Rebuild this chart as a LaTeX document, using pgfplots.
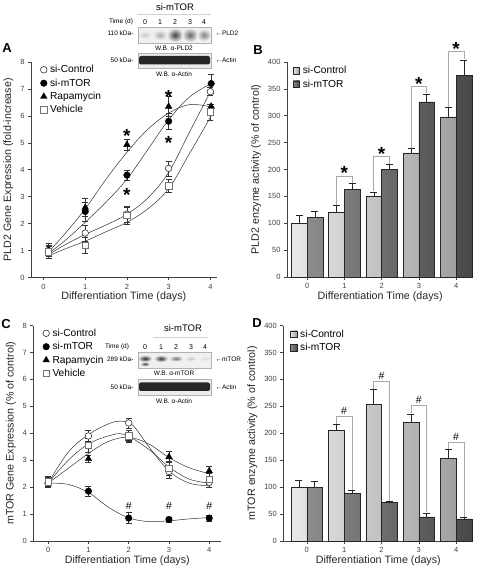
\documentclass[border=0pt]{standalone}
\usepackage{fontspec}
\setmainfont{Liberation Sans}
\usepackage{pgfplots}
\pgfplotsset{compat=1.18}
\definecolor{ctlL}{HTML}{E8E8E8}
\definecolor{ctlR}{HTML}{A0A0A0}
\definecolor{mtL}{HTML}{8C8C8C}
\definecolor{mtR}{HTML}{484848}
\definecolor{brk}{HTML}{A8A8A8}
\definecolor{axc}{HTML}{404040}
\tikzset{stn/.style={font=\bfseries\fontsize{19}{19}\selectfont}, hsn/.style={font=\fontsize{10.5}{10.5}\selectfont}}
\pgfplotsset{
  panel/.style={
    scale only axis, anchor=south west,
    axis x line*=bottom, axis y line*=left,
    axis line style={axc, line width=0.6pt},
    tick align=outside, tick style={axc, line width=0.6pt},
    major tick length=3pt,
    ticklabel style={font=\fontsize{7.5}{8}\selectfont, text=axc},
    /pgf/number format/assume math mode=true,
    label style={font=\fontsize{10.7}{12}\selectfont, text=black!85},
    xlabel={Differentiation Time (days)},
    xlabel style={yshift=2pt, inner sep=1pt},
    xtick={0,1,2,3,4},
    legend cell align=left,
    legend style={draw=none, fill=none, font=\fontsize{10.2}{11}\selectfont, anchor=north west, inner sep=0pt, row sep=2.5pt, nodes={inner ysep=1pt, inner xsep=3pt}},
  },
  mk/.style={legend image code/.code={\draw[##1] plot coordinates {(0.12cm,0cm)};}},
  barleg/.style={legend image code/.code={\draw[##1,/tikz/.cd] (0pt,-3pt) rectangle (6.5pt,3.5pt);}},
  eb/.style={error bars/.cd, y dir=both, y explicit, error bar style={black!80, line width=0.5pt}, error mark options={rotate=90, mark size=3pt, black!80, line width=0.5pt}},
  ebp/.style={error bars/.cd, y dir=plus, y explicit, error bar style={black!85, line width=0.6pt}, error mark options={rotate=90, mark size=3.5pt, black!85, line width=0.6pt}},
  fit/.style={black!80, line width=0.5pt, smooth, tension=0.6, forget plot, mark=none},
  ctlbar/.style={ybar, bar width=0.42, bar shift=0, draw=black!85, line width=0.5pt, left color=ctlL, right color=ctlR},
  mtbar/.style={ybar, bar width=0.42, bar shift=0, draw=black!85, line width=0.5pt, left color=mtL, right color=mtR},
  bk/.style={brk, line width=0.8pt, forget plot, mark=none},
}
\begin{document}
\begin{tikzpicture}
\path[use as bounding box] (0,0) rectangle (477pt,568pt);
% ---------------- Panel A
\begin{axis}[panel, at={(31pt,290.5pt)}, width=185.6pt, height=215.5pt,
  xmin=-0.3, xmax=4.15, ymin=0, ymax=8, ytick={0,1,...,8},
  ylabel={PLD2 Gene Expression (fold-increase)},
  legend style={at={(0.05,0.99)}}]
\addplot[fit] coordinates {(0.12,0.95) (0.5,1.6) (1,2.55) (1.5,3.65) (2,4.65) (2.5,5.5) (3,6.1) (3.5,6.42) (4.02,6.33)};
\addplot[fit] coordinates {(0.12,0.9) (0.5,1.35) (1,2.05) (1.5,2.8) (2,3.65) (2.5,4.75) (3,5.85) (3.5,6.7) (4.02,7.2)};
\addplot[fit] coordinates {(0.12,0.85) (0.5,1.2) (1,1.6) (1.5,1.95) (2,2.35) (2.5,2.95) (3,3.9) (3.5,5.4) (4.02,6.95)};
\addplot[fit] coordinates {(0.12,0.8) (0.5,1.05) (1,1.35) (1.5,1.7) (2,2.05) (2.5,2.55) (3,3.3) (3.5,4.6) (4.02,6.0)};
\addplot[only marks, mk, mark=*, mark size=3.3pt, mark options={fill=white, draw=black!80, line width=0.6pt}, eb] coordinates {
 (0.12,0.95) +- (0,0.15) (1,1.65) +- (0,0.3) (2,2.35) +- (0,0.3) (3,4.05) +- (0,0.28) (4,6.9) +- (0,0.15)};
\addlegendentry{si-Control}
\addplot[only marks, mk, mark=*, mark size=3.3pt, mark options={fill=black, draw=black}, eb] coordinates {
 (0.12,1.0) +- (0,0.2) (1,2.45) +- (0,0.35) (2,3.8) +- (0,0.2) (3,5.8) +- (0,0.3) (4.02,7.2) +- (0,0.35)};
\addlegendentry{si-mTOR}
\addplot[only marks, mk, mark=triangle*, mark size=3.8pt, mark options={fill=black, draw=black}, eb] coordinates {
 (0.12,1.0) +- (0,0.27) (1,2.6) +- (0,0.33) (2,4.93) +- (0,0.22) (3,6.35) +- (0,0.38) (4.02,6.35) +- (0,0.1)};
\addlegendentry{Rapamycin}
\addplot[only marks, mk, mark=square*, mark size=3.2pt, mark options={fill=white, draw=black!55, line width=0.6pt}, eb] coordinates {
 (0.12,0.95) +- (0,0.22) (1,1.2) +- (0,0.3) (2,2.3) +- (0,0.32) (3,3.4) +- (0,0.25) (4,6.15) +- (0,0.3)};
\addlegendentry{Vehicle}
\node[stn] at (axis cs:2,5.25) {*};
\node[stn] at (axis cs:2,3.05) {*};
\node[stn] at (axis cs:3,6.7) {*};
\node[stn] at (axis cs:3,5.0) {*};
\end{axis}
% ---------------- Panel B
\begin{axis}[panel, clip=false, at={(287pt,291pt)}, width=186.3pt, height=215pt,
  xmin=-0.54, xmax=4.46, ymin=0, ymax=400, ytick={0,50,...,400},
  ylabel={PLD2 enzyme activity (\% of control)},
  legend style={at={(0.03,0.985)}}]
\addplot[ctlbar, barleg, ebp] coordinates {(-0.21,100) +- (0,14) (0.79,120) +- (0,12.5) (1.79,150) +- (0,8.5) (2.79,231) +- (0,8) (3.79,298) +- (0,17)};
\addlegendentry{si-Control}
\addplot[mtbar, barleg, ebp] coordinates {(0.21,111) +- (0,11.5) (1.21,163.5) +- (0,10) (2.21,200) +- (0,9.5) (3.21,326) +- (0,14) (4.21,375) +- (0,28)};
\addlegendentry{si-mTOR}
\addplot[bk] coordinates {(0.79,134) (0.79,188) (1.21,188) (1.21,175)};
\addplot[bk] coordinates {(1.79,160) (1.79,224) (2.21,224) (2.21,211)};
\addplot[bk] coordinates {(2.79,240) (2.79,355) (3.21,355) (3.21,342)};
\addplot[bk] coordinates {(3.79,317) (3.79,420) (4.21,420) (4.21,405)};
\node[stn] at (axis cs:1,193) {*};
\node[stn] at (axis cs:2,229) {*};
\node[stn] at (axis cs:3,360) {*};
\node[stn] at (axis cs:4,425) {*};
\end{axis}
% ---------------- Panel C
\begin{axis}[panel, at={(33.3pt,27pt)}, width=188pt, height=215.5pt,
  xmin=-0.37, xmax=4.3, ymin=0, ymax=8, ytick={0,1,...,8},
  ylabel={mTOR Gene Expression (\% of control)},
  legend style={at={(0.05,0.99)}}]
\addplot[fit] coordinates {(0,2.15) (0.5,2.1) (1,1.8) (1.5,1.25) (2,0.86) (2.5,0.72) (3,0.75) (3.5,0.82) (4,0.87)};
\addplot[fit] coordinates {(0,2.15) (0.5,3.3) (1,3.95) (1.5,4.35) (1.8,4.45) (2.1,4.3) (2.5,3.5) (3,2.6) (3.5,2.15) (4,2.05)};
\addplot[fit] coordinates {(0,2.15) (0.5,3.0) (1,3.6) (1.5,3.9) (1.9,3.95) (2.5,3.4) (3,2.75) (3.5,2.3) (4,2.15)};
\addplot[fit] coordinates {(0,2.15) (0.5,2.7) (1,3.25) (1.5,3.7) (2,3.85) (2.5,3.6) (3,3.1) (3.5,2.72) (4,2.5)};
\addplot[only marks, mk, mark=*, mark size=3.3pt, mark options={fill=white, draw=black!80, line width=0.6pt}, eb] coordinates {
 (0,2.15) +- (0,0.15) (1,3.9) +- (0,0.2) (2,4.38) +- (0,0.18) (3,2.58) +- (0,0.25) (4,2.18) +- (0,0.2)};
\addlegendentry{si-Control}
\addplot[only marks, mk, mark=*, mark size=3.3pt, mark options={fill=black, draw=black}, eb] coordinates {
 (0,2.15) +- (0,0.15) (1,1.85) +- (0,0.18) (2,0.85) +- (0,0.2) (3,0.8) +- (0,0.1) (4,0.85) +- (0,0.1)};
\addlegendentry{si-mTOR}
\addplot[only marks, mk, mark=triangle*, mark size=3.8pt, mark options={fill=black, draw=black}, eb] coordinates {
 (0,2.2) +- (0,0.15) (1,3.05) +- (0,0.12) (2,3.8) +- (0,0.15) (3,3.12) +- (0,0.2) (4,2.6) +- (0,0.18)};
\addlegendentry{Rapamycin}
\addplot[only marks, mk, mark=square*, mark size=3.2pt, mark options={fill=white, draw=black!55, line width=0.6pt}, eb] coordinates {
 (0,2.2) +- (0,0.2) (1,3.55) +- (0,0.25) (2,3.9) +- (0,0.2) (3,2.7) +- (0,0.25) (4,2.3) +- (0,0.2)};
\addlegendentry{Vehicle}
\node[hsn] at (axis cs:2,1.32) {\#};
\node[hsn] at (axis cs:3,1.32) {\#};
\node[hsn] at (axis cs:4,1.32) {\#};
\end{axis}
% ---------------- Panel D
\begin{axis}[panel, clip=false, at={(283.3pt,27pt)}, width=190pt, height=215.5pt,
  xmin=-0.63, xmax=4.46, ymin=0, ymax=400, ytick={0,50,...,400},
  ylabel={mTOR enzyme activity (\% of control)},
  legend style={at={(0.035,0.985)}}]
\addplot[ctlbar, barleg, ebp] coordinates {(-0.21,100) +- (0,12.5) (0.79,205) +- (0,12) (1.79,254) +- (0,28) (2.79,220) +- (0,16) (3.79,154) +- (0,16)};
\addlegendentry{si-Control}
\addplot[mtbar, barleg, ebp] coordinates {(0.21,100) +- (0,11) (1.21,88) +- (0,6) (2.21,71) +- (0,3) (3.21,45) +- (0,7) (4.21,41) +- (0,3.5)};
\addlegendentry{si-mTOR}
\addplot[bk] coordinates {(0.79,218) (0.79,231) (1.21,231) (1.21,95)};
\addplot[bk] coordinates {(1.79,283) (1.79,296) (2.21,296) (2.21,75)};
\addplot[bk] coordinates {(2.79,237) (2.79,251) (3.21,251) (3.21,53)};
\addplot[bk] coordinates {(3.79,171) (3.79,183) (4.21,183) (4.21,45)};
\node[hsn] at (axis cs:1,242) {\#};
\node[hsn] at (axis cs:2,307) {\#};
\node[hsn] at (axis cs:3,261) {\#};
\node[hsn] at (axis cs:4,194) {\#};
\end{axis}
% ---------------- panel letters
\node[font=\bfseries\fontsize{13}{13}\selectfont] at (7pt,520pt) {A};
\node[font=\bfseries\fontsize{13}{13}\selectfont] at (258pt,518pt) {B};
\node[font=\bfseries\fontsize{13}{13}\selectfont] at (6pt,244pt) {C};
\node[font=\bfseries\fontsize{13}{13}\selectfont] at (257pt,245pt) {D};
% ---------------- blot A
\begin{scope}[x=1pt,y=1pt]
\node[font=\fontsize{9.5}{10}\selectfont] at (175,561) {si-mTOR};
\draw[gray!35, line width=0.6pt] (137,554) -- (211,554);
\node[font=\fontsize{6.5}{7}\selectfont] at (121,546) {Time (d)};
\foreach \xx/\ll in {145/0,160/1,175/2,190/3,204/4} {\node[font=\fontsize{7}{7}\selectfont] at (\xx,546) {\ll};}
\fill[gray!12] (138,525) rectangle (211,541);
\shade[inner color=gray!40, outer color=gray!12] (145,533) ellipse (7 and 4);
\shade[inner color=gray!65, outer color=gray!12] (160,533) ellipse (7 and 5);
\shade[inner color=black!75, outer color=gray!12] (175,533) ellipse (8 and 7);
\shade[inner color=black!60, outer color=gray!12] (190,533) ellipse (8 and 7);
\shade[inner color=black!50, outer color=gray!12] (204,533) ellipse (7 and 6);
\draw[gray!60, line width=0.4pt] (138,525) rectangle (211,541);
\node[anchor=east, font=\fontsize{6.5}{7}\selectfont] at (137,535) {110 kDa-};
\node[anchor=west, font=\fontsize{6.5}{7}\selectfont] at (212,535) {←PLD2};
\node[font=\fontsize{6.5}{7}\selectfont] at (174,520) {W.B. α-PLD2};
\fill[gray!15] (138,500) rectangle (211,515);
\fill[black!85, rounded corners=2pt] (139,503.5) rectangle (210,512);
\draw[gray!60, line width=0.4pt] (138,500) rectangle (211,515);
\node[anchor=east, font=\fontsize{6.5}{7}\selectfont] at (137,508) {50 kDa-};
\node[anchor=west, font=\fontsize{6.5}{7}\selectfont] at (212,508) {←Actin};
\node[font=\fontsize{6.5}{7}\selectfont] at (174,494) {W.B. α-Actin};
% ---------------- blot C
\node[font=\fontsize{9.5}{10}\selectfont] at (183,240) {si-mTOR};
\draw[gray!35, line width=0.6pt] (153,231) -- (208,231);
\node[font=\fontsize{6.5}{7}\selectfont] at (117,221) {Time (d)};
\foreach \xx/\ll in {145/0,161/1,176/2,191/3,205/4} {\node[font=\fontsize{7}{7}\selectfont] at (\xx,221) {\ll};}
\fill[gray!12] (138,200) rectangle (211,216);
\shade[inner color=black!85, outer color=gray!12] (145,209.5) ellipse (7 and 3.5);
\shade[inner color=black!70, outer color=gray!12] (145,204) ellipse (5 and 2.5);
\shade[inner color=black!80, outer color=gray!12] (161,209.5) ellipse (7 and 3.5);
\shade[inner color=black!55, outer color=gray!12] (176,209.5) ellipse (7 and 3);
\shade[inner color=gray!45, outer color=gray!12] (191,209.5) ellipse (6 and 2.5);
\shade[inner color=gray!30, outer color=gray!12] (205,209.5) ellipse (6 and 2.5);
\draw[gray!60, line width=0.4pt] (138,200) rectangle (211,216);
\node[anchor=east, font=\fontsize{6.5}{7}\selectfont] at (137,209) {289 kDa-};
\node[anchor=west, font=\fontsize{6.5}{7}\selectfont] at (212,209) {←mTOR};
\node[font=\fontsize{6.5}{7}\selectfont] at (174,195) {W.B. α-mTOR};
\fill[gray!15] (138,173) rectangle (211,189);
\fill[black!85, rounded corners=2pt] (139,177) rectangle (210,185.5);
\draw[gray!60, line width=0.4pt] (138,173) rectangle (211,189);
\node[anchor=east, font=\fontsize{6.5}{7}\selectfont] at (137,181) {50 kDa-};
\node[anchor=west, font=\fontsize{6.5}{7}\selectfont] at (212,181) {←Actin};
\node[font=\fontsize{6.5}{7}\selectfont] at (174,167) {W.B. α-Actin};
\end{scope}
\end{tikzpicture}
\end{document}
